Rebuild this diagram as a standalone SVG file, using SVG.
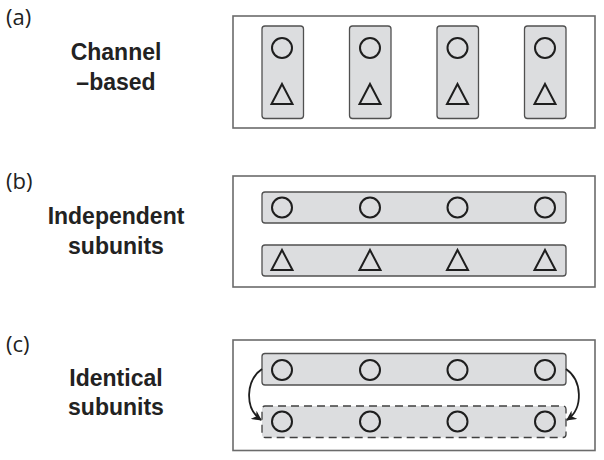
<svg xmlns="http://www.w3.org/2000/svg" width="604" height="460" viewBox="0 0 604 460">
<style>
.frame{fill:#fff;stroke:#6b6b6b;stroke-width:1.6}
.bar{fill:#dcdddf;stroke:#505050;stroke-width:1.3}
.dash{fill:#dcdddf;stroke:#404040;stroke-width:1.3;stroke-dasharray:8 5}
.sh{fill:none;stroke:#1e1e1e;stroke-width:2}
.lab{font-family:"Open Sans","Liberation Sans",sans-serif;font-size:22px;fill:#222}
.ttl{font-family:"Liberation Sans",Arial,sans-serif;font-weight:bold;font-size:23px;fill:#222;text-anchor:middle}
.arr{fill:none;stroke:#1e1e1e;stroke-width:1.8}
</style>
<defs>
<circle id="c" r="10" class="sh"/>
<path id="t" d="M0,-10 L10.5,10 L-10.5,10 Z" class="sh" stroke-linejoin="miter"/>
<marker id="ah" viewBox="0 0 10 10" refX="9" refY="5" markerWidth="10" markerHeight="10" orient="auto" markerUnits="userSpaceOnUse">
<path d="M0,0 L10,5 L0,10 L3,5 Z" fill="#1e1e1e"/>
</marker>
</defs>

<g id="panel-a">
<text class="lab" x="6" y="25">(a)</text>
<text class="ttl" x="116" y="60">Channel</text>
<text class="ttl" x="116" y="90">–based</text>
<rect class="frame" x="233" y="16" width="362" height="112"/>
<g id="a-ch1"><rect class="bar" x="262" y="26" width="41.5" height="92.5" rx="3"/><use href="#c" x="282" y="48"/><use href="#t" x="282" y="94"/></g>
<g id="a-ch2"><rect class="bar" x="349.5" y="26" width="41.5" height="92.5" rx="3"/><use href="#c" x="370" y="48"/><use href="#t" x="370" y="94"/></g>
<g id="a-ch3"><rect class="bar" x="437" y="26" width="41.5" height="92.5" rx="3"/><use href="#c" x="457.5" y="48"/><use href="#t" x="457.5" y="94"/></g>
<g id="a-ch4"><rect class="bar" x="524.5" y="26" width="41.5" height="92.5" rx="3"/><use href="#c" x="545" y="48"/><use href="#t" x="545" y="94"/></g>
</g>

<g id="panel-b">
<text class="lab" x="6" y="189">(b)</text>
<text class="ttl" x="116" y="224">Independent</text>
<text class="ttl" x="116" y="254">subunits</text>
<rect class="frame" x="233" y="176" width="362" height="111"/>
<g id="b-circles"><rect class="bar" x="262" y="192" width="304" height="31" rx="3"/>
<use href="#c" x="282" y="207.5"/><use href="#c" x="370" y="207.5"/><use href="#c" x="457.5" y="207.5"/><use href="#c" x="545" y="207.5"/></g>
<g id="b-triangles"><rect class="bar" x="262" y="245" width="304" height="31" rx="3"/>
<use href="#t" x="282" y="260"/><use href="#t" x="370" y="260"/><use href="#t" x="457.5" y="260"/><use href="#t" x="545" y="260"/></g>
</g>

<g id="panel-c">
<text class="lab" x="6" y="352">(c)</text>
<text class="ttl" x="116" y="386">Identical</text>
<text class="ttl" x="116" y="415">subunits</text>
<rect class="frame" x="233" y="340" width="362" height="110.5"/>
<g id="c-top"><rect class="bar" x="262" y="353.5" width="304" height="31.5" rx="3"/>
<use href="#c" x="282" y="370"/><use href="#c" x="370" y="370"/><use href="#c" x="457.5" y="370"/><use href="#c" x="545" y="370"/></g>
<g id="c-bottom"><rect class="dash" x="262" y="406" width="304" height="31.5" rx="3"/>
<use href="#c" x="282" y="421.5"/><use href="#c" x="370" y="421.5"/><use href="#c" x="457.5" y="421.5"/><use href="#c" x="545" y="421.5"/></g>
</g>

<g id="connectors">
<path class="arr" d="M262,369 C246,380 244,408 261,420" marker-end="url(#ah)"/>
<path class="arr" d="M566,369 C582,380 584,408 567,420" marker-end="url(#ah)"/>
</g>
</svg>
